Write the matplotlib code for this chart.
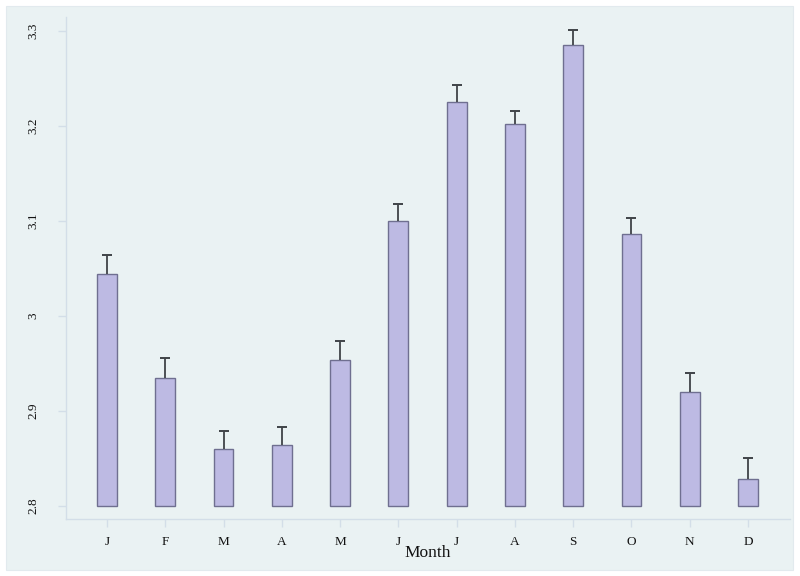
import matplotlib
matplotlib.use("Agg")
import matplotlib.pyplot as plt
from matplotlib.patches import Rectangle
import numpy as np

months = ["J", "F", "M", "A", "M", "J", "J", "A", "S", "O", "N", "D"]
means = [3.044, 2.935, 2.860, 2.864, 2.954, 3.100, 3.225, 3.202, 3.285, 3.086, 2.920, 2.828]
upper = [3.064, 2.956, 2.879, 2.883, 2.974, 3.118, 3.243, 3.216, 3.301, 3.103, 2.940, 2.850]
yticks = [2.8, 2.9, 3.0, 3.1, 3.2, 3.3]
ytick_labels = ["2.8", "2.9", "3", "3.1", "3.2", "3.3"]
base = 2.8

plt.rcParams['font.family'] = ['Liberation Serif', 'DejaVu Serif']

bg = "#EAF2F3"
fig = plt.figure(figsize=(8, 5.76), dpi=100, facecolor="white")
fig.patches.append(Rectangle((6/800, 6/576), 787/800, 564/576, transform=fig.transFigure,
                             facecolor=bg, edgecolor="#E2EAEE", linewidth=0.8, zorder=-10))
ax = fig.add_axes([66/800, 1-519/576, 724/800, (519-17)/576])
ax.set_facecolor(bg)
ax.set_zorder(1)

x = np.arange(1, len(months)+1)
heights = np.array(means) - base
ax.bar(x, heights, bottom=base, width=0.34, color="#BDBAE3", edgecolor="#6F6F90",
       linewidth=1.0, zorder=2)
ax.vlines(x, means, upper, color="#404448", linewidth=1.3, zorder=3)
ax.plot(x, upper, linestyle="none", marker="_", markersize=7, markeredgewidth=1.4,
        color="#404448", zorder=3)

ax.set_xlim(0.296, 12.72)
ax.set_ylim(2.7863, 3.3147)
ax.set_yticks(yticks)
ax.set_yticklabels(ytick_labels, rotation=90, va="center", fontsize=9.5)
ax.set_xticks(x)
ax.set_xticklabels(months, fontsize=9.5)
for s in ["top", "right"]:
    ax.spines[s].set_visible(False)
for s in ["left", "bottom"]:
    ax.spines[s].set_color("#D3DEE8")
    ax.spines[s].set_linewidth(1.0)
ax.tick_params(axis="both", colors="#D3DEE8", length=6, width=1.0, labelcolor="#111111")
ax.tick_params(axis="y", pad=13)
ax.tick_params(axis="x", pad=6)
ax.set_xlabel("Month", fontsize=12.5, labelpad=-2, color="#111111")

fig.savefig("out.png", dpi=100, facecolor="white")
